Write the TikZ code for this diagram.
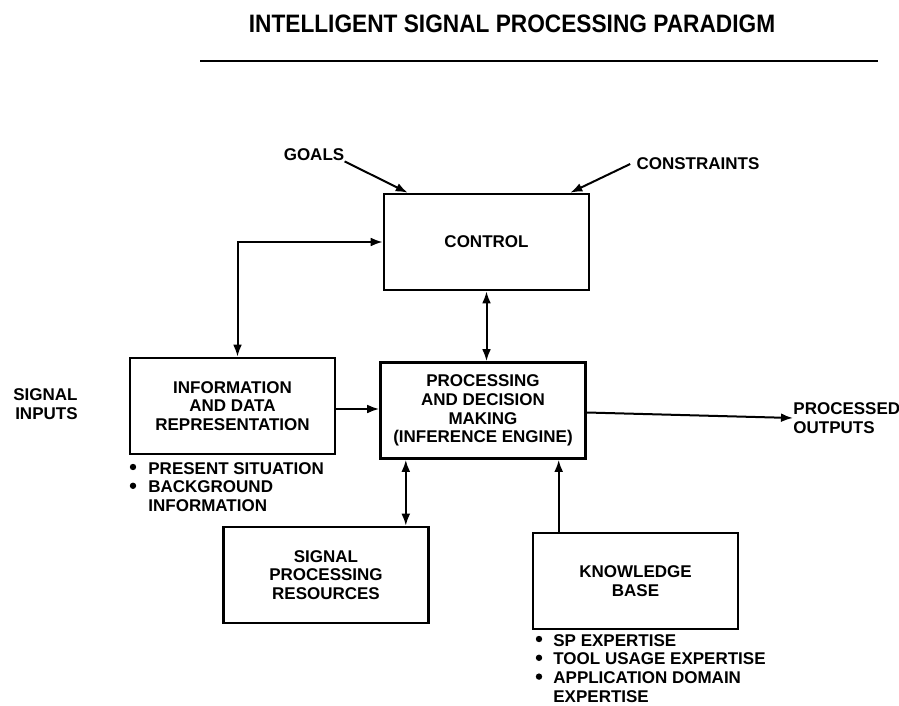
\documentclass[tikz,border=0pt]{standalone}
\usepackage{fontspec}
\setmainfont{Liberation Sans}
\usetikzlibrary{arrows.meta,calc}
\newcommand\lbl{\fontsize{8.5}{9.4}\selectfont\bfseries}

\begin{document}
\begin{tikzpicture}[x=0.5pt,y=-0.5pt,
  blok/.style={draw, line width=1.3pt, minimum width=102.5pt, minimum height=48pt, align=center, inner sep=0pt, font=\lbl},
  lab/.style={align=center, font=\lbl, inner sep=0pt},
  lijst/.style={font=\lbl, inner sep=0pt, anchor=base west},
  pijl/.style={line width=1pt, -{Latex[length=6pt,width=4.4pt]}},
  dpijl/.style={line width=1pt, {Latex[length=6pt,width=4.4pt]}-{Latex[length=6pt,width=4.4pt]}}]
\useasboundingbox (0,0) rectangle (899,706);

% titre et trait
\node[inner sep=0pt, font=\fontsize{12.6}{14}\selectfont\bfseries] (titre) at (512,24) {\scalebox{0.9}[1]{INTELLIGENT SIGNAL PROCESSING PARADIGM}};
\draw[line width=0.9pt] (200,61) -- (878,61);

% les blocs
\node[blok] (ctrl) at (486.5,242) {CONTROL};
\node[blok] (idr) at (232.5,406) {INFORMATION\\AND DATA\\REPRESENTATION};
\node[blok] (pdm) at (483,410.5) {PROCESSING\\AND DECISION\\MAKING\\(INFERENCE ENGINE)};
\node[blok] (spr) at (326,575) {SIGNAL\\PROCESSING\\RESOURCES};
\node[blok] (kb) at (635.5,581) {KNOWLEDGE\\BASE};

% les etiquettes
\node[lab] (goals) at (314,155) {GOALS};
\node[lab] (cons) at (698,164) {CONSTRAINTS};
\node[lab, anchor=east, align=right] (in) at (78,404) {SIGNAL\\INPUTS};
\node[lab, anchor=west, align=left] (out) at (793,418) {PROCESSED\\OUTPUTS};

% les listes a puces
\foreach \t [count=\i from 0] in {PRESENT SITUATION, BACKGROUND, INFORMATION}
  \node[lijst] (idrl\i) at (148,{474+18.8*\i}) {\t};
\foreach \i in {0,1}
  \fill (133,{467+18.8*\i}) circle (1.6pt);
\foreach \t [count=\i from 0] in {SP EXPERTISE, TOOL USAGE EXPERTISE, APPLICATION DOMAIN, EXPERTISE}
  \node[lijst] (kbl\i) at (553,{646+18.8*\i}) {\t};
\foreach \i in {0,1,2}
  \fill (539,{639+18.8*\i}) circle (1.6pt);

% les fleches
\draw[pijl] (goals.south east) -- ([xshift=12.5pt]ctrl.north west);
\draw[pijl] ([xshift=-3pt]cons.west) -- ([xshift=-10pt]ctrl.north east);
\draw[dpijl] ([xshift=2.5pt]idr.north) |- (ctrl.west);
\draw[dpijl] (ctrl.south) -- (ctrl.south |- pdm.north);
\draw[pijl] ([yshift=-1.5pt]idr.east) -- ([yshift=-1.5pt]idr.east -| pdm.west);
\draw[pijl] ([yshift=-1pt]pdm.east) -- (out.west);
\coordinate (sprtop) at ($(spr.north east)+(-24,0)$);
\draw[dpijl] (sprtop) -- (sprtop |- pdm.south);
\coordinate (kbtop) at ($(kb.north west)+(27,0)$);
\draw[pijl] (kbtop) -- (kbtop |- pdm.south);
\end{tikzpicture}
\end{document}
